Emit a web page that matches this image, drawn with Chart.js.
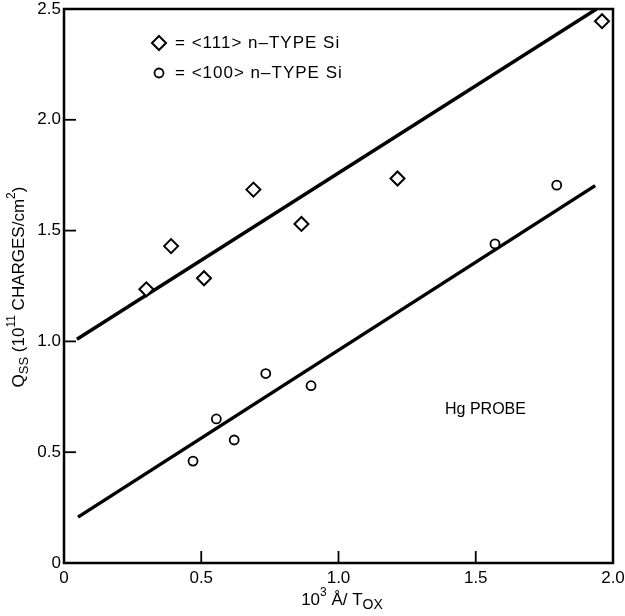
<!DOCTYPE html>
<html>
<head>
<meta charset="utf-8">
<script src="https://cdn.jsdelivr.net/npm/chart.js@4"></script>
<style>
  body { margin: 0; background: #fff; }
  #wrap { width: 625px; height: 616px; }
</style>
</head>
<body>
<div id="wrap"><canvas id="chart"></canvas></div>
<script>
// <111> n-type Si (diamonds)
const tox111 = [0.30, 0.39, 0.51, 0.69, 0.865, 1.215, 1.96];
const qss111 = [1.235, 1.43, 1.285, 1.685, 1.53, 1.735, 2.445];
// <100> n-type Si (circles)
const tox100 = [0.47, 0.555, 0.62, 0.735, 0.90, 1.57, 1.795];
const qss100 = [0.46, 0.65, 0.555, 0.855, 0.80, 1.44, 1.705];
// fitted straight lines
const fit111X = [0.047, 1.94];
const fit111Y = [1.01, 2.50];
const fit100X = [0.051, 1.935];
const fit100Y = [0.207, 1.703];

const legendLabels = ['= <111> n\u2013TYPE Si', '= <100> n\u2013TYPE Si'];
const noteLabel = 'Hg PROBE';
const xTicks = [0, 0.5, 1.0, 1.5, 2.0];
const yTicks = [0, 0.5, 1.0, 1.5, 2.0, 2.5];

const FONT = '"Liberation Sans", Arial, sans-serif';

function toPoints(xs, ys) {
    return xs.map((x, i) => ({ x: x, y: ys[i] }));
}

function fmt(v) {
    return v === 0 ? '0' : v.toFixed(1);
}

// text with sub/superscripts, runs = [[text, size, dy], ...]
function drawRuns(ctx, runs, x, y) {
    let total = 0;
    runs.forEach(r => {
        ctx.font = r[1] + 'px ' + FONT;
        total += ctx.measureText(r[0]).width;
    });
    let cx = x - total / 2;
    ctx.textAlign = 'left';
    ctx.textBaseline = 'middle';
    runs.forEach(r => {
        ctx.font = r[1] + 'px ' + FONT;
        ctx.fillText(r[0], cx, y + r[2]);
        cx += ctx.measureText(r[0]).width;
    });
}

function diamond(ctx, x, y, r) {
    ctx.beginPath();
    ctx.moveTo(x, y - r);
    ctx.lineTo(x + r, y);
    ctx.lineTo(x, y + r);
    ctx.lineTo(x - r, y);
    ctx.closePath();
    ctx.stroke();
}

const decorations = {
    id: 'decorations',
    afterDraw(chart) {
        const { ctx, chartArea: a, scales } = chart;
        ctx.save();
        ctx.strokeStyle = '#000';
        ctx.fillStyle = '#000';
        ctx.lineWidth = 2.5;
        ctx.strokeRect(a.left, a.top, a.right - a.left, a.bottom - a.top);

        // inward ticks
        ctx.lineWidth = 1.8;
        scales.x.ticks.forEach(t => {
            const px = scales.x.getPixelForValue(t.value);
            ctx.beginPath();
            ctx.moveTo(px, a.bottom);
            ctx.lineTo(px, a.bottom - 12);
            ctx.stroke();
        });
        scales.y.ticks.forEach(t => {
            const py = scales.y.getPixelForValue(t.value);
            ctx.beginPath();
            ctx.moveTo(a.left, py);
            ctx.lineTo(a.left + 12, py);
            ctx.stroke();
        });

        // legend
        ctx.lineWidth = 2;
        diamond(ctx, 159, 43, 7);
        ctx.lineWidth = 1.8;
        ctx.beginPath();
        ctx.arc(159, 73, 4.5, 0, Math.PI * 2);
        ctx.stroke();
        ctx.font = '17px ' + FONT;
        ctx.letterSpacing = '1px';
        ctx.textAlign = 'left';
        ctx.textBaseline = 'middle';
        ctx.fillText(legendLabels[0], 175, 43);
        ctx.fillText(legendLabels[1], 175, 73);
        ctx.letterSpacing = '0px';

        ctx.font = '16px ' + FONT;
        ctx.fillText(noteLabel, 445, 410);

        // x title: 10^3 Å / T_OX
        drawRuns(ctx, [['10', 17, 0], ['3', 12, -7], [' \u00C5/ T', 17, 0], ['OX', 14, 5]], 342, 600);

        // y title: Q_SS (10^11 CHARGES/cm^2)
        ctx.translate(19, 287);
        ctx.rotate(-Math.PI / 2);
        drawRuns(ctx, [['Q', 17, 0], ['SS', 13, 5], [' (10', 17, 0], ['11', 12, -7],
            [' CHARGES/cm', 17, 0], ['2', 12, -7], [')', 17, 0]], 0, 0);
        ctx.restore();
    }
};

const ctxC = document.getElementById('chart').getContext('2d');
const chart = new Chart(ctxC, {
    type: 'scatter',
    data: {
        datasets: [
            {
                label: '<111>',
                data: toPoints(tox111, qss111),
                pointStyle: 'rectRot',
                pointRadius: 7,
                pointBorderWidth: 2,
                pointBackgroundColor: '#fff',
                pointBorderColor: '#000',
            },
            {
                label: '<100>',
                data: toPoints(tox100, qss100),
                pointStyle: 'circle',
                pointRadius: 4.5,
                pointBorderWidth: 1.8,
                pointBackgroundColor: '#fff',
                pointBorderColor: '#000',
            },
            {
                label: 'fit <111>',
                data: toPoints(fit111X, fit111Y),
                showLine: true,
                borderColor: '#000',
                borderWidth: 3.5,
                pointRadius: 0,
            },
            {
                label: 'fit <100>',
                data: toPoints(fit100X, fit100Y),
                showLine: true,
                borderColor: '#000',
                borderWidth: 3.5,
                pointRadius: 0,
            },
        ],
    },
    options: {
        responsive: true,
        maintainAspectRatio: false,
        animation: false,
        events: [],
        layout: { padding: { top: 8, right: 12, left: 0, bottom: 0 } },
        plugins: {
            legend: { display: false },
            tooltip: { enabled: false },
        },
        scales: {
            x: {
                type: 'linear',
                min: 0,
                max: 2.0,
                grid: { display: false, drawTicks: false },
                border: { display: false },
                afterBuildTicks: s => { s.ticks = xTicks.map(v => ({ value: v })); },
                afterFit: s => { s.height = 53; s.paddingLeft = 0; s.paddingRight = 0; },
                ticks: {
                    color: '#000',
                    padding: 5,
                    maxRotation: 0,
                    font: { family: FONT, size: 17 },
                    callback: v => fmt(v),
                },
            },
            y: {
                type: 'linear',
                min: 0,
                max: 2.5,
                grid: { display: false, drawTicks: false },
                border: { display: false },
                afterBuildTicks: s => { s.ticks = yTicks.map(v => ({ value: v })); },
                afterFit: s => { s.width = 64; s.paddingTop = 0; s.paddingBottom = 0; },
                ticks: {
                    color: '#000',
                    padding: 3,
                    font: { family: FONT, size: 17 },
                    callback: v => fmt(v),
                },
            },
        },
    },
    plugins: [decorations],
});
</script>
</body>
</html>
